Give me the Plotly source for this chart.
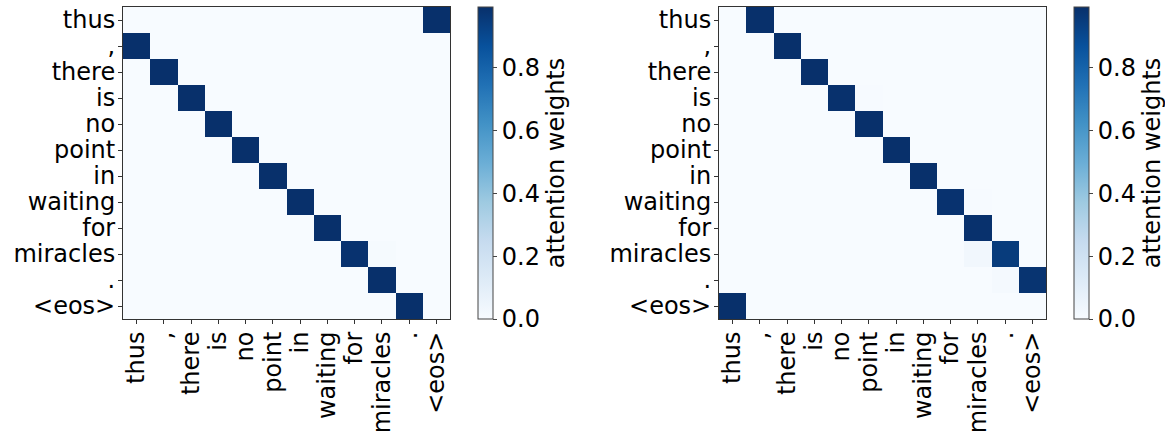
import plotly.graph_objects as go

tokens = ["thus", ",", "there", "is", "no", "point", "in", "waiting", "for", "miracles", ".", "<eos>"]

# Attention weights: rows are target tokens (y), columns are source tokens (x)
left_weights = [
    [0.0, 0.0, 0.0, 0.0, 0.0, 0.0, 0.0, 0.0, 0.0, 0.0, 0.0, 0.994],
    [0.994, 0.0, 0.0, 0.0, 0.0, 0.0, 0.0, 0.0, 0.0, 0.0, 0.0, 0.0],
    [0.0, 0.993, 0.0, 0.0, 0.0, 0.0, 0.0, 0.0, 0.0, 0.0, 0.0, 0.0],
    [0.0, 0.0, 0.993, 0.0, 0.0, 0.0, 0.0, 0.0, 0.0, 0.0, 0.0, 0.0],
    [0.0, 0.0, 0.0, 0.993, 0.0, 0.0, 0.0, 0.0, 0.0, 0.0, 0.0, 0.0],
    [0.0, 0.0, 0.0, 0.0, 0.993, 0.0, 0.0, 0.0, 0.0, 0.0, 0.0, 0.0],
    [0.0, 0.0, 0.0, 0.0, 0.0, 0.993, 0.0, 0.0, 0.0, 0.0, 0.0, 0.0],
    [0.0, 0.0, 0.0, 0.0, 0.0, 0.0, 0.993, 0.0, 0.0, 0.0, 0.0, 0.0],
    [0.0, 0.0, 0.0, 0.0, 0.0, 0.0, 0.0, 0.993, 0.0, 0.0, 0.0, 0.0],
    [0.0, 0.0, 0.0, 0.0, 0.0, 0.0, 0.0, 0.0, 0.985, 0.008, 0.0, 0.0],
    [0.0, 0.0, 0.0, 0.0, 0.0, 0.0, 0.0, 0.0, 0.0, 0.993, 0.0, 0.0],
    [0.0, 0.0, 0.0, 0.0, 0.0, 0.0, 0.0, 0.0, 0.0, 0.0, 0.993, 0.0],
]

right_weights = [
    [0.0, 0.994, 0.0, 0.0, 0.0, 0.0, 0.0, 0.0, 0.0, 0.0, 0.0, 0.0],
    [0.0, 0.0, 0.993, 0.0, 0.0, 0.0, 0.0, 0.0, 0.0, 0.0, 0.0, 0.0],
    [0.0, 0.0, 0.0, 0.993, 0.0, 0.0, 0.0, 0.0, 0.0, 0.0, 0.0, 0.0],
    [0.0, 0.0, 0.0, 0.0, 0.99, 0.004, 0.0, 0.0, 0.0, 0.0, 0.0, 0.0],
    [0.0, 0.0, 0.0, 0.0, 0.0, 0.993, 0.0, 0.0, 0.0, 0.0, 0.0, 0.0],
    [0.0, 0.0, 0.0, 0.0, 0.0, 0.0, 0.993, 0.0, 0.0, 0.0, 0.0, 0.0],
    [0.0, 0.0, 0.0, 0.0, 0.0, 0.0, 0.0, 0.993, 0.0, 0.0, 0.0, 0.0],
    [0.0, 0.0, 0.0, 0.0, 0.0, 0.0, 0.0, 0.0, 0.985, 0.006, 0.0, 0.0],
    [0.0, 0.0, 0.0, 0.0, 0.0, 0.0, 0.0, 0.0, 0.0, 0.99, 0.0, 0.0],
    [0.0, 0.0, 0.0, 0.0, 0.0, 0.0, 0.0, 0.0, 0.0, 0.03, 0.95, 0.0],
    [0.0, 0.0, 0.0, 0.0, 0.0, 0.0, 0.0, 0.0, 0.0, 0.0, 0.015, 0.98],
    [0.994, 0.0, 0.0, 0.0, 0.0, 0.0, 0.0, 0.0, 0.0, 0.0, 0.0, 0.0],
]

# matplotlib "Blues" colour map
blues = [
    [0.0, "#f7fbff"], [0.125, "#deebf7"], [0.25, "#c6dbef"], [0.375, "#9ecae1"],
    [0.5, "#6baed6"], [0.625, "#4292c6"], [0.75, "#2171b5"], [0.875, "#08519c"],
    [1.0, "#08306b"],
]

W, H = 1165, 432
FONT = "DejaVu Sans"
FS = 24

y_top = 1 - 7 / H
y_bot = 1 - 319 / H
panels = [
    (left_weights, 123, 450, 478),
    (right_weights, 719, 1046, 1074),
]

fig = go.Figure()
idx = list(range(len(tokens)))

for i, (z, x0, x1, cbx) in enumerate(panels):
    n = "" if i == 0 else str(i + 1)
    zmax = max(max(r) for r in z)
    fig.add_trace(go.Heatmap(
        z=z, x=idx, y=idx,
        xaxis="x" + n, yaxis="y" + n,
        colorscale=blues, zmin=0, zmax=zmax,
        showscale=True,
        colorbar=dict(
            x=cbx / W, xanchor="left", xpad=0,
            y=y_top, yanchor="top", len=y_top - y_bot, lenmode="fraction",
            ypad=0,
            thickness=15, outlinewidth=1, outlinecolor="#444",
            tickvals=[0.0, 0.2, 0.4, 0.6, 0.8],
            ticktext=["0.0", "0.2", "0.4", "0.6", "0.8"],
            ticks="outside", ticklen=4, tickcolor="#444",
            tickfont=dict(family=FONT, size=FS, color="black"),
            title=dict(text="attention weights", side="right",
                       font=dict(family=FONT, size=FS, color="black")),
        ),
        hoverongaps=False,
    ))
    axis_common = dict(
        showgrid=False, zeroline=False, showline=True, mirror=True,
        linecolor="#333", linewidth=1, automargin=False,
        ticks="outside", ticklen=4, tickcolor="#333",
        tickfont=dict(family=FONT, size=FS, color="black"),
        tickmode="array", tickvals=idx, ticktext=tokens,
    )
    fig.layout["xaxis" + n] = dict(
        axis_common, domain=[x0 / W, x1 / W], anchor="y" + n,
        range=[-0.5, len(tokens) - 0.5], tickangle=-90,
        ticklabelstandoff=-2,
    )
    fig.layout["yaxis" + n] = dict(
        axis_common, domain=[y_bot, y_top], anchor="x" + n,
        range=[len(tokens) - 0.5, -0.5],
        ticklabelstandoff=-2,
    )

fig.update_layout(
    width=W, height=H,
    margin=dict(l=0, r=0, t=0, b=0, autoexpand=False),
    paper_bgcolor="white", plot_bgcolor="white",
    font=dict(family=FONT, size=FS, color="black"),
)

fig.write_html("out.html")
